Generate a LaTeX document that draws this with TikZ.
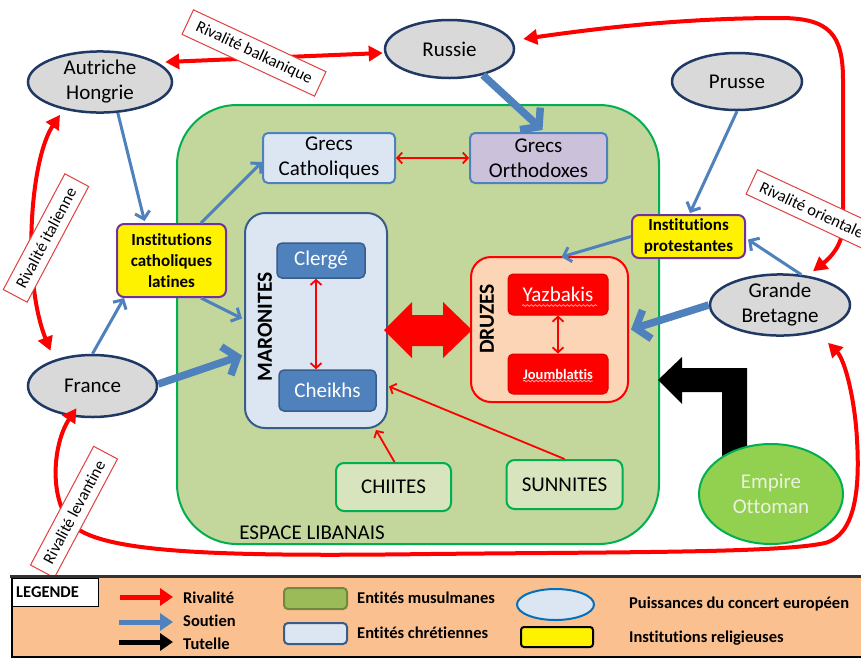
\documentclass[tikz,border=0pt]{standalone}
\usepackage{fontspec}
\setmainfont{Carlito}[Ligatures=CommonOff]
\usetikzlibrary{shapes.geometric,arrows.meta,calc,decorations.pathmorphing}
\definecolor{espfill}{HTML}{C3D69B}
\definecolor{espdraw}{HTML}{00B050}
\definecolor{chret}{HTML}{DCE6F2}
\definecolor{darkblue}{HTML}{385D8A}
\definecolor{soutien}{HTML}{4F81BD}
\definecolor{lav}{HTML}{CCC1DA}
\definecolor{peach}{HTML}{FBD5B5}
\definecolor{musl}{HTML}{D7E4BD}
\definecolor{grayfill}{HTML}{D9D9D9}
\definecolor{navy}{HTML}{1F3864}
\definecolor{purp}{HTML}{7030A0}
\definecolor{legbg}{HTML}{FAC090}
\definecolor{ottofill}{HTML}{92D050}
\definecolor{ottotext}{HTML}{EBF1DE}
\definecolor{labred}{HTML}{E0403F}
\definecolor{leggreen}{HTML}{9BBB59}
\definecolor{leggreendraw}{HTML}{71893F}
\definecolor{legblue}{HTML}{0070C0}
\begin{document}
\begin{tikzpicture}[x=1pt,y=-1pt,
  bigfont/.style={font=\fontsize{21}{25}\selectfont},
  power/.style={ellipse, draw=navy, line width=2.5pt, fill=grayfill, inner sep=0pt, align=center, font=\fontsize{21}{25}\selectfont},
  chretbox/.style={rectangle, rounded corners=5pt, inner sep=0pt, align=center, line width=2pt, draw=soutien, fill=chret, font=\fontsize{21}{25}\selectfont},
  subbox/.style={rectangle, rounded corners=5pt, inner sep=0pt, align=center, line width=1.5pt, draw=darkblue, fill=soutien, text=white, font=\fontsize{21}{25}\selectfont},
  druzbox/.style={rectangle, rounded corners=5pt, inner sep=0pt, align=center, line width=1pt, draw=red!85!black, fill=red, text=white},
  muslbox/.style={rectangle, rounded corners=8pt, inner sep=0pt, align=center, line width=2pt, draw=espdraw, fill=musl, font=\fontsize{21}{25}\selectfont},
  instbox/.style={rectangle, rounded corners=7pt, inner sep=0pt, align=center, line width=2pt, draw=purp, fill=yellow, font=\bfseries\fontsize{17}{21}\selectfont},
  grouplab/.style={rotate=90, font=\bfseries\fontsize{21.5}{25}\selectfont},
  sout/.style={draw=soutien, line width=3pt, -{Straight Barb[length=7pt,width=15pt]}},
  soutthick/.style={draw=soutien, line width=7.5pt, -{Straight Barb[length=12pt,width=30pt]}},
  rivthin/.style={draw=red, line width=1.8pt, {Straight Barb[length=5pt,width=11pt]}-{Straight Barb[length=5pt,width=11pt]}},
  rivone/.style={draw=red, line width=1.8pt, -{Straight Barb[length=5pt,width=11pt]}},
  riv/.style={draw=red, line width=4pt, {Triangle[length=14pt,width=15pt]}-{Triangle[length=14pt,width=15pt]}},
  rivlabel/.style={draw=labred, fill=white, line width=1pt, font=\fontsize{16.5}{20}\selectfont, inner xsep=10pt, inner ysep=0pt, minimum height=27pt},
  squiggle/.style={draw=red!35!white, line width=0.8pt, decorate, decoration={snake, amplitude=0.8pt, segment length=4pt}},
  legtext/.style={anchor=west, inner sep=0pt, font=\bfseries\fontsize{16.5}{20}\selectfont},
  legarrow/.style={line width=5pt, -{Triangle[length=13pt,width=17pt]}}
]
\useasboundingbox (0,0) rectangle (861,659);
\clip (0,0) rectangle (861,659);
\fill[white] (0,0) rectangle (861,659);

% Espace libanais
\node[rectangle, rounded corners=60pt, fill=espfill, draw=espdraw, line width=2pt, minimum width=482pt, minimum height=439pt] (esp) at (418,324.5) {};
\node[bigfont, inner sep=0pt] (esplab) at (312,533) {ESPACE LIBANAIS};

% Christian entities
\node[chretbox, minimum width=132pt, minimum height=50pt] (gcath) at (329,158) {Grecs\\Catholiques};
\node[chretbox, fill=lav, minimum width=137pt, minimum height=50pt] (gorth) at (538.5,158) {Grecs\\Orthodoxes};
\node[rectangle, rounded corners=20pt, fill=chret, draw=darkblue, line width=2pt, minimum width=142pt, minimum height=215pt] (maron) at (316,320.5) {};
\node[grouplab] (maronlab) at (265,327) {MARONITES};
\node[subbox, minimum width=88pt, minimum height=35pt] (clerge) at (321,260.5) {Clergé};
\node[subbox, minimum width=97pt, minimum height=41pt] (cheikhs) at (327.5,390.5) {Cheikhs};

% Druzes
\node[rectangle, rounded corners=20pt, fill=peach, draw=red, line width=2pt, minimum width=157pt, minimum height=145pt] (druzes) at (549.5,329.5) {};
\node[grouplab] (druzlab) at (487,319) {DRUZES};
\node[druzbox, minimum width=100pt, minimum height=41pt, font=\fontsize{21}{25}\selectfont] (yazb) at (558,294.5) {Yazbakis};
\node[druzbox, minimum width=100pt, minimum height=40pt, font=\bfseries\fontsize{14.5}{17}\selectfont] (joumb) at (558,374) {Joumblattis};
\draw[squiggle] ($(yazb.center)+(-36,11)$) -- ($(yazb.center)+(39,11)$);
\draw[squiggle] ($(joumb.center)+(-35,7)$) -- ($(joumb.center)+(35,7)$);

% Muslim entities
\node[muslbox, minimum width=115pt, minimum height=48pt] (chiites) at (393.5,487) {CHIITES};
\node[muslbox, minimum width=116pt, minimum height=49pt] (sunnites) at (564.5,484.5) {SUNNITES};

% Institutions
\node[instbox, minimum width=109pt, minimum height=73pt] (cathlat) at (171.5,260.5) {Institutions\\catholiques\\latines};
\node[instbox, minimum width=113pt, minimum height=43pt] (prot) at (688.5,236.5) {Institutions\\protestantes};

% Tutelle arrow (drawn under the Ottoman ellipse)
\fill[black] (658,380) -- (682,357) -- (682,368) -- (747,368) -- (747,460) -- (722,460) -- (722,392) -- (682,392) -- (682,404) -- cycle;

% Powers
\node[power, minimum width=144pt, minimum height=60pt] (aut) at (100,82) {Autriche\\Hongrie};
\node[power, minimum width=129pt, minimum height=58pt] (rus) at (449.5,49) {Russie};
\node[power, minimum width=130pt, minimum height=57pt] (prus) at (737,81.5) {Prusse};
\node[power, minimum width=129pt, minimum height=62pt] (fra) at (92.5,386) {France};
\node[power, minimum width=140pt, minimum height=57pt] (gb) at (780,305) {Grande\\Bretagne};
\node[ellipse, fill=ottofill, draw=espdraw, line width=2pt, minimum width=144pt, minimum height=100pt, inner sep=0pt, align=center, text=ottotext, font=\fontsize{21}{25}\selectfont] (otto) at (771,494) {Empire\\Ottoman};

% Big rivalry Maronites <-> Druzes
\fill[red] (384,330) -- (412,302) -- (412,315) -- (443,315) -- (443,302) -- (472,330) -- (443,358) -- (443,346) -- (412,346) -- (412,358) -- cycle;

% Soutien arrows
\draw[sout] (aut.-60) -- ($(cathlat.north)+(-27,-2)$);
\draw[sout] (fra.north) -- ($(cathlat.south west)+(8,0)$);
\draw[sout] ($(cathlat.north east)+(-26,0)$) -- ($(gcath.west)+(0,4)$);
\draw[sout] ($(cathlat.south east)+(-26,0)$) -- ($(maron.west)+(-2,-2)$);
\draw[soutthick] ($(fra.east)+(0,-2)$) -- ($(maron.west)+(-2,35)$);
\draw[soutthick] (rus.-38) -- ($(gorth.north)+(4,-2)$);
\draw[sout] (prus.south) -- ($(prot.north)+(1.5,-1)$);
\draw[sout] (prot.west) -- ($(druzes.north)+(12,1)$);
\draw[sout] (gb.55) -- ($(prot.east)+(2,3)$);
\draw[soutthick] (gb.west) -- ($(druzes.east)+(2,0)$);

% Internal rivalries
\draw[rivthin] (gcath.east) -- (gorth.west);
\draw[rivthin] ($(clerge.south)+(-5,0)$) -- ($(cheikhs.north)+(-11.5,0)$);
\draw[rivthin] (yazb.south) -- (joumb.north);
\draw[rivone] ($(chiites.north)+(1,0)$) -- ($(maron.south)+(60,1)$);
\draw[rivone] (sunnites.north) -- ($(maron.east)+(1,66)$);

% Great power rivalries
\draw[riv] ($(aut.east)+(-8,-20)$) -- ($(rus.west)+(-1,4)$);
\draw[riv] ($(aut.south)+(-40,1)$) .. controls (30,160) and (22,280) .. ($(fra.north)+(-42,-3)$);
\draw[riv] ($(rus.east)+(8,-10)$) .. controls (620,25) and (700,18) .. (780,18) .. controls (830,18) and (843,35) .. (843,80) -- (843,225) .. controls (843,245) and (830,258) .. ($(gb.north)+(33,-2)$);
\draw[riv] ($(fra.south)+(-16,-10)$) .. controls (55,440) and (48,490) .. (68,520) .. controls (90,552) and (200,557) .. (430,554) .. controls (620,552) and (780,553) .. (825,543) .. controls (855,535) and (860,490) .. (857,440) .. controls (855,400) and (845,360) .. ($(gb.south)+(48,6)$);

% Rivalry labels
\node[rivlabel, rotate=-25] (lbalk) at (254,53) {Rivalité balkanique};
\node[rivlabel, rotate=62] (lital) at (46,238) {Rivalité italienne};
\node[rivlabel, rotate=-25] (lorient) at (812,210) {Rivalité orientale};
\node[rivlabel, rotate=62] (llevant) at (74,512) {Rivalité levantine};

% Legend
\draw[fill=legbg, line width=1.5pt] (12,577) rectangle (875,657);
\draw[line width=3pt, black!80] (10,576) -- (875,576);
\node[draw=black, fill=white, line width=1pt, minimum width=86pt, minimum height=28pt, inner sep=0pt] (legbox) at (55,592) {};
\node[legtext] (legtitle) at (16,592) {LEGENDE};
\coordinate (ra1) at (120,597); \coordinate (ra2) at (173,597);
\coordinate (sa1) at (119,622); \coordinate (sa2) at (173,622);
\coordinate (ta1) at (119,642); \coordinate (ta2) at (173,642);
\draw[legarrow, red] (ra1) -- (ra2);
\draw[legarrow, soutien] (sa1) -- (sa2);
\draw[legarrow, black] (ta1) -- (ta2);
\node[legtext] (lriv) at (183,598) {Rivalité};
\node[legtext] (lsout) at (183,621) {Soutien};
\node[legtext] (ltut) at (183,644) {Tutelle};
\node[rectangle, rounded corners=4pt, fill=leggreen, draw=leggreendraw, line width=2pt, minimum width=63pt, minimum height=21pt] (lgreen) at (315.5,598.5) {};
\node[rectangle, rounded corners=4pt, fill=chret, draw=darkblue, line width=2pt, minimum width=63pt, minimum height=21pt] (lblue) at (315.5,633.5) {};
\node[legtext] (lmusl) at (357,598) {Entités musulmanes};
\node[legtext] (lchret) at (357,633) {Entités chrétiennes};
\node[ellipse, fill=chret, draw=legblue, line width=2pt, minimum width=77pt, minimum height=31pt, inner sep=0pt] (lell) at (555.5,604.5) {};
\node[rectangle, rounded corners=3pt, fill=yellow, draw=black, line width=2pt, minimum width=72pt, minimum height=20pt] (lyel) at (557,637) {};
\node[legtext] (lpuis) at (629,604) {Puissances du concert européen};
\node[legtext] (linst) at (629,638) {Institutions religieuses};
\end{tikzpicture}
\end{document}
